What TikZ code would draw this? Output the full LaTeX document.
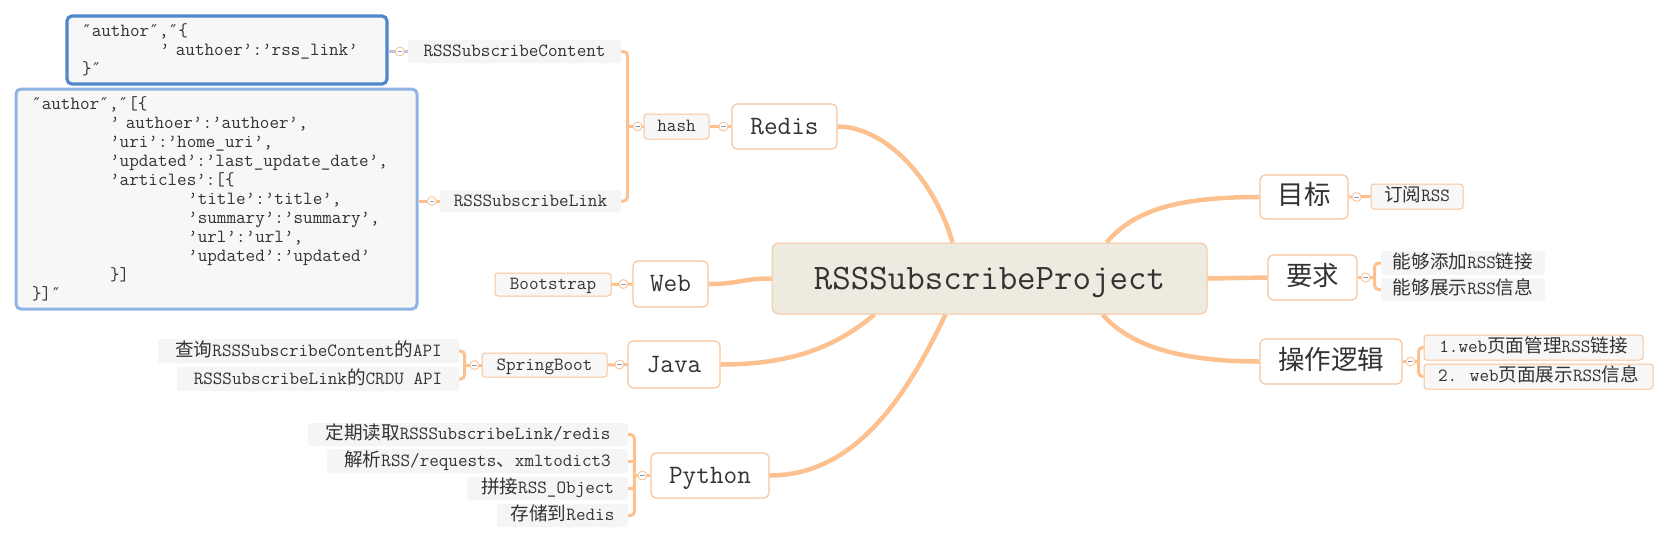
\documentclass[tikz,border=0pt]{standalone}
\usepackage{fontspec}
\newfontfamily\cjk{Noto Sans CJK SC}
\newfontfamily\djv{DejaVu Sans}
\newcommand\zh[1]{{\cjk #1}}
\newcommand\dq{\makebox[9.765pt]{\djv\fontsize{16}{19}\selectfont ″}}
\usetikzlibrary{calc,backgrounds}
\definecolor{cLine}{HTML}{FCC18F}
\definecolor{cBord}{HTML}{F8C49A}
\definecolor{cGray}{HTML}{F5F5F5}
\definecolor{cLite}{HTML}{F7F7F7}
\definecolor{cRoot}{HTML}{EDEADF}
\definecolor{cBlueA}{HTML}{4F87CF}
\definecolor{cBlueB}{HTML}{8FB4E3}
\definecolor{cTxt}{HTML}{333333}
\definecolor{cMinus}{HTML}{8C9AB8}
\definecolor{cLav}{HTML}{C6C2DA}
\begin{document}
\begin{tikzpicture}[x=1pt,y=-1pt,
  basefont/.style={font=\ttfamily\fontsize{18.6}{19}\selectfont, text=cTxt, inner sep=0pt, text height=14pt, text depth=4pt},
  leaf/.style={basefont, fill=cGray, rounded corners=3pt},
  lvlB/.style={basefont, fill=cLite, draw=cBord, line width=1pt, rounded corners=3pt},
  lvlA/.style={font=\ttfamily\fontsize{26.5}{28}\selectfont, text=cTxt, fill=white, draw=cBord, line width=1.2pt, rounded corners=5pt, inner sep=0pt, text height=19pt, text depth=4pt},
  rootbox/.style={font=\ttfamily\fontsize{35.9}{38}\selectfont, text=cTxt, fill=cRoot, draw=cBord, line width=1pt, rounded corners=7pt, inner sep=0pt, text height=25pt, text depth=4pt},
  codebox/.style={font=\ttfamily\fontsize{18.6}{19}\selectfont, text=cTxt, fill=cLite, rounded corners=5pt, align=left, inner ysep=0pt},
  btn/.style={circle, draw=cBord, fill=white, line width=0.9pt, minimum size=9pt, inner sep=0pt,
    path picture={\draw[cMinus, line width=0.9pt] ([xshift=-2.3pt]path picture bounding box.center) -- ([xshift=2.3pt]path picture bounding box.center);}},
  mainln/.style={draw=cLine, line width=4.5pt},
  subln/.style={draw=cLine, line width=3pt},
  lavln/.style={draw=cLav, line width=3pt},
  brk/.style={draw=cLine, line width=3pt, rounded corners=4pt}
]
\useasboundingbox (0,0) rectangle (1670,544);
\begin{scope}[on background layer]
\fill[white] (0,0) rectangle (1670,544);
\end{scope}

% root
\node[rootbox, minimum width=435pt, minimum height=71pt] (root) at (989.5,278.5) {RSSSubscribeProject};

% level 1
\node[lvlA, minimum width=105pt, minimum height=45pt] (redis) at (784.5,126.5) {Redis};
\node[lvlA, minimum width=75pt, minimum height=46pt] (web) at (670.5,284) {Web};
\node[lvlA, minimum width=92pt, minimum height=47pt] (java) at (674,364.5) {Java};
\node[lvlA, minimum width=118pt, minimum height=45pt] (python) at (710,475.5) {Python};
\node[lvlA, minimum width=88pt, minimum height=44pt] (goal) at (1304,197) {\zh{目标}};
\node[lvlA, minimum width=89pt, minimum height=45pt] (req) at (1312.5,277.5) {\zh{要求}};
\node[lvlA, minimum width=142pt, minimum height=45pt] (op) at (1331,361.5) {\zh{操作逻辑}};

% level 2
\node[lvlB, minimum width=65pt, minimum height=25pt] (hash) at (676.5,126.5) {hash};
\node[lvlB, minimum width=116pt, minimum height=23pt] (boot) at (553,284.5) {Bootstrap};
\node[lvlB, minimum width=125pt, minimum height=24pt] (spring) at (544.5,365) {SpringBoot};
\node[lvlB, minimum width=92pt, minimum height=25pt] (sub) at (1417,196.5) {\zh{订阅}RSS};
\node[leaf, minimum width=164pt, minimum height=24pt] (reqA) at (1463,263) {\zh{能够添加}RSS\zh{链接}};
\node[leaf, minimum width=164pt, minimum height=23pt] (reqB) at (1463,289.5) {\zh{能够展示}RSS\zh{信息}};
\node[lvlB, minimum width=219pt, minimum height=25pt] (opA) at (1533.5,347.5) {1.web\zh{页面管理}RSS\zh{链接}};
\node[lvlB, minimum width=229pt, minimum height=25pt] (opB) at (1538.5,376.5) {2. web\zh{页面展示}RSS\zh{信息}};

% level 3
\node[leaf, minimum width=213pt, minimum height=23pt] (rsc) at (514.5,51.5) {RSSSubscribeContent};
\node[leaf, minimum width=181pt, minimum height=22pt] (rsl) at (530.5,201) {RSSSubscribeLink};
\node[leaf, minimum width=301pt, minimum height=24pt] (jA) at (308.5,351) {\zh{查询}RSSSubscribeContent\zh{的}API};
\node[leaf, minimum width=282pt, minimum height=24pt] (jB) at (318,379) {RSSSubscribeLink\zh{的}CRDU API};
\node[leaf, minimum width=320pt, minimum height=23pt] (pA) at (468,434.5) {\zh{定期读取}RSSSubscribeLink/redis};
\node[leaf, minimum width=301pt, minimum height=24pt] (pB) at (477.5,461) {\zh{解析}RSS/requests\zh{、}xmltodict3};
\node[leaf, minimum width=161pt, minimum height=23pt] (pC) at (547.5,488.5) {\zh{拼接}RSS\_Object};
\node[leaf, minimum width=131pt, minimum height=23pt] (pD) at (562.5,515.5) {\zh{存储到}Redis};

% code boxes
\node[codebox, draw=cBlueA, line width=3.2pt, text width=290pt, inner xsep=15pt, minimum height=68pt] (c1) at (227,50) {%
\dq author\dq,\dq\{\\
\hspace*{78.12pt}’ authoer’:’rss\_link’\\
\}\dq};
\node[codebox, draw=cBlueB, line width=3pt, text width=369pt, inner xsep=16pt, minimum height=220pt] (c2) at (216.5,199) {%
\dq author\dq,\dq[\{\\
\hspace*{78.12pt}’ authoer’:’authoer’,\\
\hspace*{78.12pt}’uri’:’home\_uri’,\\
\hspace*{78.12pt}’updated’:’last\_update\_date’,\\
\hspace*{78.12pt}’articles’:[\{\\
\hspace*{156.24pt}’title’:’title’,\\
\hspace*{156.24pt}’summary’:’summary’,\\
\hspace*{156.24pt}’url’:’url’,\\
\hspace*{156.24pt}’updated’:’updated’\\
\hspace*{78.12pt}\}]\\
\}]\dq};

% main connectors
\begin{scope}[on background layer]
\draw[mainln] ($(root.north west)+(181,0)$) .. controls +(-18,-63) and +(48,0) .. (redis.east);
\draw[mainln] ($(root.north west)+(335,0)$) .. controls +(28,-33) and +(-80,0) .. (goal.west);
\draw[mainln] ($(root.south west)+(331,0)$) .. controls +(27,31) and +(-80,0) .. (op.west);
\draw[mainln] (root.east) -- (req.west);
\draw[mainln] (root.west) .. controls +(-30,0) and +(30,0) .. (web.east);
\draw[mainln] ($(root.south west)+(103,0)$) .. controls +(-45,38) and +(60,0) .. (java.east);
\draw[mainln] ($(root.south west)+(174,0)$) .. controls +(-34,71) and +(91,0) .. (python.east);
\end{scope}

% sub connectors
\coordinate (hb) at ($(hash.west)+(-16,0)$);
\draw[subln] (redis.west) -- (hash.east);
\draw[brk] (rsc.east) -| (hb) |- (rsl.east);
\draw[subln] (hash.west) -- (hb);
\draw[lavln] (rsc.west) -- (rsc.west -| c1.east);
\draw[subln] (rsl.west) -- (rsl.west -| c2.east);
\draw[subln] (web.west) -- (boot.east);
\draw[subln] (java.west) -- (spring.east);
\coordinate (jb) at ($(spring.west)+(-17,0)$);
\draw[brk] (jA.east) -| (jb) |- (jB.east);
\draw[subln] (spring.west) -- (jb);
\coordinate (pb) at ($(python.west)+(-16,0)$);
\draw[brk] (pA.east) -| (pb) |- (pD.east);
\draw[subln] (pB.east) -- (pB.east -| pb);
\draw[subln] (pC.east) -- (pC.east -| pb);
\draw[subln] (python.west) -- (pb);
\draw[subln] (goal.east) -- (sub.west);
\coordinate (rb) at ($(req.east)+(17,0)$);
\draw[brk] (reqA.west) -| (rb) |- (reqB.west);
\draw[subln] (req.east) -- (rb);
\coordinate (ob) at ($(op.east)+(16,0)$);
\draw[brk] (opA.west) -| (ob) |- (opB.west);
\draw[subln] (op.east) -- (ob);

% collapse buttons
\node[btn] (bR) at ($(redis.west)+(-8,0)$) {};
\node[btn] (bH) at ($(hash.west)+(-6,0)$) {};
\node[btn] (bC1) at ($(rsc.west)+(-8,0)$) {};
\node[btn] (bC2) at ($(rsl.west)+(-8,0)$) {};
\node[btn] (bW) at ($(web.west)+(-9,0)$) {};
\node[btn] (bJ) at ($(java.west)+(-8,0)$) {};
\node[btn] (bS) at ($(spring.west)+(-7,0)$) {};
\node[btn] (bP) at ($(python.west)+(-8,0)$) {};
\node[btn] (bG) at ($(goal.east)+(8,0)$) {};
\node[btn] (bQ) at ($(req.east)+(8,0)$) {};
\node[btn] (bO) at ($(op.east)+(8,0)$) {};
\end{tikzpicture}
\end{document}
